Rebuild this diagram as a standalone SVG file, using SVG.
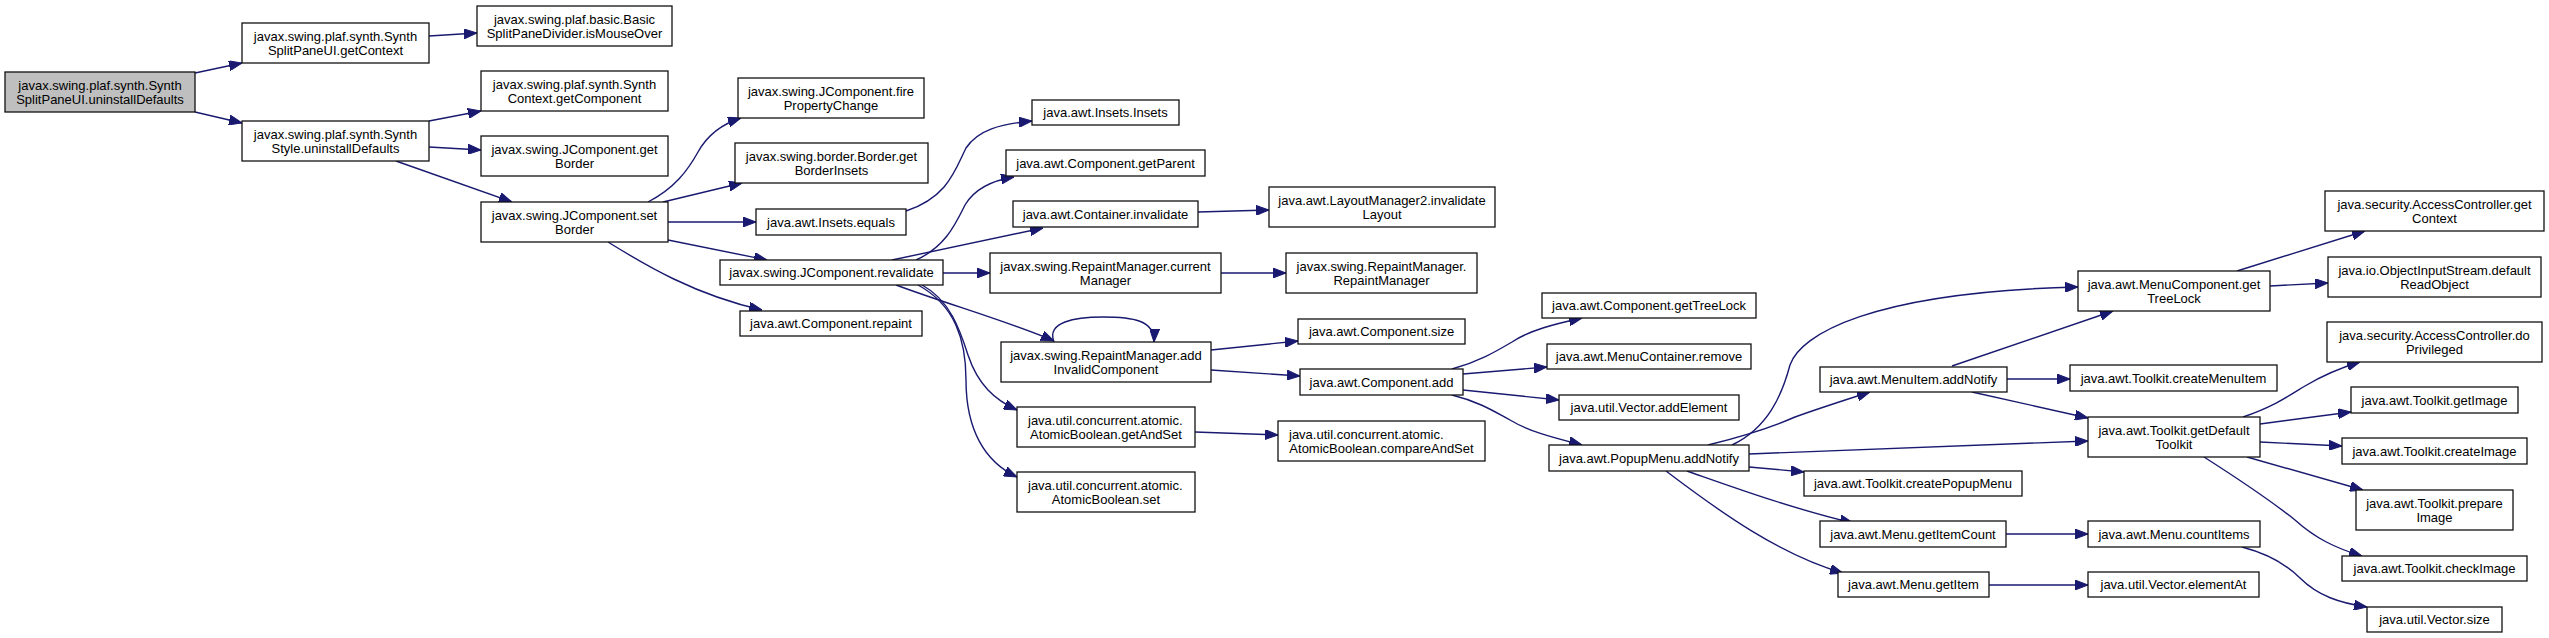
<svg xmlns="http://www.w3.org/2000/svg" width="2549" height="638" viewBox="0 0 2549 638">
<style>
.node rect{fill:#ffffff;stroke:#111111;stroke-width:1.3}
.root rect{fill:#bfbfbf}
text{font-family:"Liberation Sans",Arial,Helvetica,sans-serif;font-size:13px;fill:#000000;text-anchor:middle}
text.l{text-anchor:start}
.edges path{fill:none;stroke:#191970;stroke-width:1.4;marker-end:url(#arr)}
</style>
<defs>
<marker id="arr" markerUnits="userSpaceOnUse" viewBox="0 0 13 10" refX="13" refY="5" markerWidth="13" markerHeight="10" orient="auto">
<path d="M0,0 L13,5 L0,10 z" fill="#191970" stroke="#191970" stroke-width="1"/>
</marker>
</defs>
<rect x="0" y="0" width="2549" height="638" fill="#ffffff"/>
<g class="edges" id="edges">
<path d="M195,73 L242,63"/>
<path d="M195,112 L242,123"/>
<path d="M429,36 L477,33"/>
<path d="M429,121 L481,111"/>
<path d="M429,147 L481,150"/>
<path d="M396,161 L512,202"/>
<path d="M648,202 C675,188 688,170 698,152 C708,134 722,124 741,118"/>
<path d="M663,202 L742,183"/>
<path d="M668,222 L756,222"/>
<path d="M668,240 L767,260"/>
<path d="M608,242 C645,265 695,295 762,310"/>
<path d="M906,211 C948,197 955,170 966,148 C978,130 1000,124 1032,121"/>
<path d="M916,260 C945,247 955,225 965,205 C975,188 995,180 1014,177"/>
<path d="M892,260 L1043,228"/>
<path d="M943,273 L990,273"/>
<path d="M896,285 C950,305 1010,322 1054,341"/>
<path d="M922,285 C950,300 960,330 968,355 C978,385 995,400 1017,410"/>
<path d="M918,285 C955,305 966,340 966,380 C966,430 985,462 1017,477"/>
<path d="M1054,342 C1046,322 1075,317 1103,317 C1132,317 1155,320 1154,342"/>
<path d="M1211,350 L1298,341"/>
<path d="M1211,370 L1300,376"/>
<path d="M1195,432 L1278,435"/>
<path d="M1198,212 L1269,210"/>
<path d="M1221,273 L1286,273"/>
<path d="M1452,369 C1478,362 1495,352 1512,342 C1530,330 1555,324 1582,318"/>
<path d="M1463,374 L1547,367"/>
<path d="M1463,390 L1559,400"/>
<path d="M1452,395 C1480,402 1495,412 1510,420 C1530,432 1555,438 1582,445"/>
<path d="M1708,445 C1740,437 1770,428 1795,417 C1820,408 1845,400 1870,392"/>
<path d="M1732,445 C1768,428 1782,395 1790,365 C1800,335 1870,292 2078,287"/>
<path d="M1749,454 L2088,441"/>
<path d="M1749,467 L1804,472"/>
<path d="M1687,471 C1730,486 1790,508 1853,523"/>
<path d="M1666,471 C1720,512 1780,555 1843,573"/>
<path d="M1952,366 L2113,311"/>
<path d="M2007,379 L2070,379"/>
<path d="M1972,392 L2088,418"/>
<path d="M2006,534 L2088,534"/>
<path d="M1989,585 L2088,585"/>
<path d="M2237,271 L2365,231"/>
<path d="M2270,286 L2328,283"/>
<path d="M2243,417 C2275,406 2290,395 2305,386 C2325,374 2340,368 2360,362"/>
<path d="M2260,424 L2351,412"/>
<path d="M2260,442 L2342,446"/>
<path d="M2247,457 L2363,490"/>
<path d="M2204,457 C2240,480 2270,500 2295,520 C2315,538 2335,548 2362,556"/>
<path d="M2242,547 C2265,553 2285,563 2300,578 C2318,596 2340,603 2367,607"/>
</g>
<g id="n1" class="node root"><rect x="5" y="72" width="190" height="40"/><text x="100" y="89.5">javax.swing.plaf.synth.Synth</text><text x="100" y="103.5">SplitPaneUI.uninstallDefaults</text></g>
<g id="n2" class="node"><rect x="242" y="23" width="187" height="40"/><text x="335.5" y="40.5">javax.swing.plaf.synth.Synth</text><text x="335.5" y="54.5">SplitPaneUI.getContext</text></g>
<g id="n3" class="node"><rect x="242" y="121" width="187" height="40"/><text x="335.5" y="138.5">javax.swing.plaf.synth.Synth</text><text x="335.5" y="152.5">Style.uninstallDefaults</text></g>
<g id="n4" class="node"><rect x="477" y="6" width="195" height="40"/><text x="574.5" y="23.5">javax.swing.plaf.basic.Basic</text><text x="574.5" y="37.5">SplitPaneDivider.isMouseOver</text></g>
<g id="n5" class="node"><rect x="481" y="71" width="187" height="40"/><text x="574.5" y="88.5">javax.swing.plaf.synth.Synth</text><text x="574.5" y="102.5">Context.getComponent</text></g>
<g id="n6" class="node"><rect x="481" y="136" width="187" height="40"/><text x="574.5" y="153.5">javax.swing.JComponent.get</text><text x="574.5" y="167.5">Border</text></g>
<g id="n7" class="node"><rect x="481" y="202" width="187" height="40"/><text x="574.5" y="219.5">javax.swing.JComponent.set</text><text x="574.5" y="233.5">Border</text></g>
<g id="n8" class="node"><rect x="738" y="78" width="186" height="40"/><text x="831" y="95.5">javax.swing.JComponent.fire</text><text x="831" y="109.5">PropertyChange</text></g>
<g id="n9" class="node"><rect x="735" y="143" width="193" height="40"/><text x="831.5" y="160.5">javax.swing.border.Border.get</text><text x="831.5" y="174.5">BorderInsets</text></g>
<g id="n10" class="node"><rect x="756" y="209" width="150" height="26"/><text x="831" y="226.5">java.awt.Insets.equals</text></g>
<g id="n11" class="node"><rect x="720" y="260" width="223" height="25"/><text x="831.5" y="277">javax.swing.JComponent.revalidate</text></g>
<g id="n12" class="node"><rect x="740" y="311" width="182" height="25"/><text x="831" y="328">java.awt.Component.repaint</text></g>
<g id="n13" class="node"><rect x="1032" y="100" width="147" height="25"/><text x="1105.5" y="117">java.awt.Insets.Insets</text></g>
<g id="n14" class="node"><rect x="1006" y="150" width="199" height="26"/><text x="1105.5" y="167.5">java.awt.Component.getParent</text></g>
<g id="n15" class="node"><rect x="1013" y="201" width="185" height="26"/><text x="1105.5" y="218.5">java.awt.Container.invalidate</text></g>
<g id="n16" class="node"><rect x="990" y="253" width="231" height="40"/><text x="1105.5" y="270.5">javax.swing.RepaintManager.current</text><text x="1105.5" y="284.5">Manager</text></g>
<g id="n17" class="node"><rect x="1001" y="342" width="210" height="40"/><text x="1106" y="359.5">javax.swing.RepaintManager.add</text><text x="1106" y="373.5">InvalidComponent</text></g>
<g id="n18" class="node"><rect x="1017" y="407" width="178" height="40"/><text class="l" x="1028" y="424.5">java.util.concurrent.atomic.</text><text x="1106" y="438.5">AtomicBoolean.getAndSet</text></g>
<g id="n19" class="node"><rect x="1017" y="472" width="178" height="40"/><text class="l" x="1028" y="489.5">java.util.concurrent.atomic.</text><text x="1106" y="503.5">AtomicBoolean.set</text></g>
<g id="n20" class="node"><rect x="1269" y="187" width="226" height="40"/><text x="1382" y="204.5">java.awt.LayoutManager2.invalidate</text><text x="1382" y="218.5">Layout</text></g>
<g id="n21" class="node"><rect x="1286" y="253" width="191" height="40"/><text x="1381.5" y="270.5">javax.swing.RepaintManager.</text><text x="1381.5" y="284.5">RepaintManager</text></g>
<g id="n22" class="node"><rect x="1298" y="319" width="167" height="25"/><text x="1381.5" y="336">java.awt.Component.size</text></g>
<g id="n23" class="node"><rect x="1300" y="369" width="163" height="26"/><text x="1381.5" y="386.5">java.awt.Component.add</text></g>
<g id="n24" class="node"><rect x="1278" y="421" width="207" height="40"/><text class="l" x="1289" y="438.5">java.util.concurrent.atomic.</text><text x="1381.5" y="452.5">AtomicBoolean.compareAndSet</text></g>
<g id="n25" class="node"><rect x="1542" y="293" width="214" height="25"/><text x="1649" y="310">java.awt.Component.getTreeLock</text></g>
<g id="n26" class="node"><rect x="1547" y="344" width="204" height="25"/><text x="1649" y="361">java.awt.MenuContainer.remove</text></g>
<g id="n27" class="node"><rect x="1559" y="395" width="180" height="25"/><text x="1649" y="412">java.util.Vector.addElement</text></g>
<g id="n28" class="node"><rect x="1549" y="445" width="200" height="26"/><text x="1649" y="462.5">java.awt.PopupMenu.addNotify</text></g>
<g id="n29" class="node"><rect x="1820" y="367" width="187" height="25"/><text x="1913.5" y="384">java.awt.MenuItem.addNotify</text></g>
<g id="n30" class="node"><rect x="1804" y="471" width="218" height="25"/><text x="1913" y="488">java.awt.Toolkit.createPopupMenu</text></g>
<g id="n31" class="node"><rect x="1820" y="521" width="186" height="26"/><text x="1913" y="538.5">java.awt.Menu.getItemCount</text></g>
<g id="n32" class="node"><rect x="1838" y="572" width="151" height="25"/><text x="1913.5" y="589">java.awt.Menu.getItem</text></g>
<g id="n33" class="node"><rect x="2078" y="271" width="192" height="40"/><text x="2174" y="288.5">java.awt.MenuComponent.get</text><text x="2174" y="302.5">TreeLock</text></g>
<g id="n34" class="node"><rect x="2070" y="365" width="207" height="26"/><text x="2173.5" y="382.5">java.awt.Toolkit.createMenuItem</text></g>
<g id="n35" class="node"><rect x="2088" y="417" width="172" height="40"/><text x="2174" y="434.5">java.awt.Toolkit.getDefault</text><text x="2174" y="448.5">Toolkit</text></g>
<g id="n36" class="node"><rect x="2088" y="521" width="172" height="26"/><text x="2174" y="538.5">java.awt.Menu.countItems</text></g>
<g id="n37" class="node"><rect x="2088" y="572" width="171" height="25"/><text x="2173.5" y="589">java.util.Vector.elementAt</text></g>
<g id="n38" class="node"><rect x="2325" y="191" width="219" height="40"/><text x="2434.5" y="208.5">java.security.AccessController.get</text><text x="2434.5" y="222.5">Context</text></g>
<g id="n39" class="node"><rect x="2328" y="257" width="213" height="40"/><text x="2434.5" y="274.5">java.io.ObjectInputStream.default</text><text x="2434.5" y="288.5">ReadObject</text></g>
<g id="n40" class="node"><rect x="2327" y="322" width="215" height="40"/><text x="2434.5" y="339.5">java.security.AccessController.do</text><text x="2434.5" y="353.5">Privileged</text></g>
<g id="n41" class="node"><rect x="2351" y="387" width="167" height="26"/><text x="2434.5" y="404.5">java.awt.Toolkit.getImage</text></g>
<g id="n42" class="node"><rect x="2342" y="438" width="185" height="26"/><text x="2434.5" y="455.5">java.awt.Toolkit.createImage</text></g>
<g id="n43" class="node"><rect x="2356" y="490" width="157" height="40"/><text x="2434.5" y="507.5">java.awt.Toolkit.prepare</text><text x="2434.5" y="521.5">Image</text></g>
<g id="n44" class="node"><rect x="2342" y="556" width="185" height="25"/><text x="2434.5" y="573">java.awt.Toolkit.checkImage</text></g>
<g id="n45" class="node"><rect x="2367" y="607" width="135" height="25"/><text x="2434.5" y="624">java.util.Vector.size</text></g>
</svg>
